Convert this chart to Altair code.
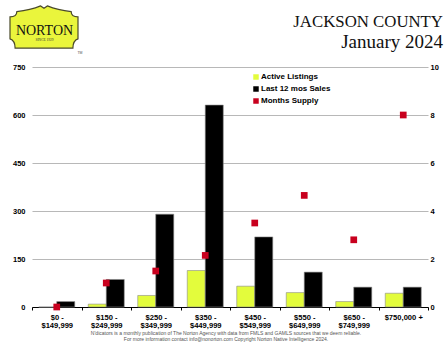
import altair as alt
import pandas as pd

# Price bands (two-line tick labels split on "\n")
categories = [
    "$0 -\n$149,999",
    "$150 -\n$249,999",
    "$250 -\n$349,999",
    "$350 -\n$449,999",
    "$450 -\n$549,999",
    "$550 -\n$649,999",
    "$650 -\n$749,999",
    "$750,000 +",
]
active_listings = [0, 9, 36, 114, 65, 45, 17, 43]
last_12_sales = [17, 86, 290, 631, 219, 109, 62, 62]
months_supply = [0.0, 1.0, 1.5, 2.15, 3.5, 4.65, 2.8, 8.0]

series_names = ["Active Listings", "Last 12 mos Sales", "Months Supply"]
series_colors = ["#E3FC3C", "#000000", "#C8001E"]

left_ticks = [0, 150, 300, 450, 600, 750]
right_ticks = [0, 2, 4, 6, 8, 10]

FONT = "Liberation Sans"
SERIF = "Liberation Serif"

bars_df = pd.DataFrame(
    {
        "cat": categories * 2,
        "series": [series_names[0]] * len(categories) + [series_names[1]] * len(categories),
        "value": active_listings + last_12_sales,
    }
)
supply_df = pd.DataFrame(
    {"cat": categories, "supply": months_supply, "series": [series_names[2]] * len(categories)}
)

color_scale = alt.Scale(domain=series_names, range=series_colors)

x_axis = alt.Axis(
    title=None,
    labelExpr="split(datum.label, '\\n')",
    labelFont=FONT,
    labelFontSize=7.6,
    labelFontWeight="bold",
    labelColor="#000000",
    labelLineHeight=8.5,
    labelPadding=3,
    labelAngle=0,
    tickBand="extent",
    tickSize=3,
    tickColor="#000000",
    domainColor="#000000",
    domainWidth=1,
    grid=False,
)

x_enc = alt.X(
    "cat:N",
    sort=categories,
    scale=alt.Scale(paddingInner=0, paddingOuter=0),
    axis=x_axis,
)

bars = alt.Chart(bars_df).mark_bar(stroke="#8a8a8a", strokeWidth=0.6).encode(
    x=x_enc,
    xOffset=alt.XOffset(
        "series:N",
        sort=series_names[:2],
        scale=alt.Scale(paddingInner=0, paddingOuter=0.375),
    ),
    y=alt.Y(
        "value:Q",
        scale=alt.Scale(domain=[0, 750], nice=False),
        axis=alt.Axis(
            orient="left",
            title=None,
            values=left_ticks,
            grid=True,
            gridColor="#b8b8b8",
            gridWidth=1.1,
            ticks=False,
            domain=False,
            labelFont=FONT,
            labelFontSize=7.5,
            labelFontWeight="bold",
            labelColor="#000000",
            labelPadding=7,
        ),
    ),
    color=alt.Color(
        "series:N",
        scale=color_scale,
        legend=alt.Legend(
            title=None,
            orient="none",
            legendX=220,
            legendY=6,
            symbolType="square",
            symbolSize=30,
            symbolStrokeWidth=0,
            labelFont=FONT,
            labelFontSize=8,
            labelFontWeight="bold",
            labelColor="#000000",
            labelOffset=1,
            rowPadding=4,
        ),
    ),
)

supply = alt.Chart(supply_df).mark_square(size=45, opacity=1).encode(
    x=x_enc,
    y=alt.Y(
        "supply:Q",
        scale=alt.Scale(domain=[0, 10], nice=False),
        axis=alt.Axis(
            orient="right",
            title=None,
            values=right_ticks,
            grid=False,
            ticks=False,
            domain=False,
            labelFont=FONT,
            labelFontSize=7.5,
            labelFontWeight="bold",
            labelColor="#000000",
            labelPadding=2,
        ),
    ),
    color=alt.Color("series:N", scale=color_scale),
)

# Header: logo badge and report title
one = pd.DataFrame({"k": [0]})
badge_path = (
    "M -0.8 -0.45 Q -0.4 -0.5 -0.1 -0.62 L 0 -0.55 L 0.1 -0.62 Q 0.4 -0.5 0.8 -0.45 "
    "Q 0.8 -0.3 1 -0.3 L 1 0.35 Q 0.85 0.4 0.85 0.62 L -0.85 0.62 Q -0.85 0.4 -1 0.35 "
    "L -1 -0.3 Q -0.8 -0.3 -0.8 -0.45 Z"
)
badge = alt.Chart(one).mark_point(
    shape=badge_path, size=68 * 68, filled=True, fill="#EAF53C", stroke="#4a4a2a",
    strokeWidth=1.2, opacity=1,
).encode(x=alt.value(12), y=alt.value(-40))

badge_name = alt.Chart(one).mark_text(
    text="NORTON", font=SERIF, fontSize=14, color="#111111", align="center", baseline="alphabetic"
).encode(x=alt.value(12.5), y=alt.value(-32))
badge_since = alt.Chart(one).mark_text(
    text="SINCE 1929", font=SERIF, fontSize=3.5, color="#333333", align="center", baseline="alphabetic"
).encode(x=alt.value(12.5), y=alt.value(-26.5))
badge_tm = alt.Chart(one).mark_text(
    text="TM", font=FONT, fontSize=3.5, color="#555555", align="center", baseline="alphabetic"
).encode(x=alt.value(48), y=alt.value(-13))

title_1 = alt.Chart(one).mark_text(
    text="JACKSON COUNTY", font=SERIF, fontSize=16.8, color="#111111", align="right", baseline="alphabetic"
).encode(x=alt.value(411), y=alt.value(-40))
title_2 = alt.Chart(one).mark_text(
    text="January 2024", font=SERIF, fontSize=19, color="#111111", align="right", baseline="alphabetic"
).encode(x=alt.value(411), y=alt.value(-19))

footer = alt.Chart(one).mark_text(
    text="N'dicators is a monthly publication of The Norton Agency with data from FMLS and GAMLS sources that we deem reliable.\n"
    "For more information contact info@nonorton.com Copyright Norton Native Intelligence 2024.",
    lineBreak="\n",
    lineHeight=6,
    font=FONT,
    fontSize=5,
    color="#555555",
    align="center",
    baseline="middle",
).encode(x=alt.value(194), y=alt.value(266))

chart = (
    alt.layer(bars, supply, badge, badge_name, badge_since, badge_tm, title_1, title_2, footer)
    .resolve_scale(y="independent")
    .properties(
        width=396,
        height=240,
        autosize=alt.AutoSizeParams(type="none"),
        padding={"left": 32, "top": 67, "right": 18, "bottom": 36},
        background="#ffffff",
    )
    .configure_view(stroke=None)
)

chart.save("out.html", embed_options={"renderer": "svg", "actions": False})
